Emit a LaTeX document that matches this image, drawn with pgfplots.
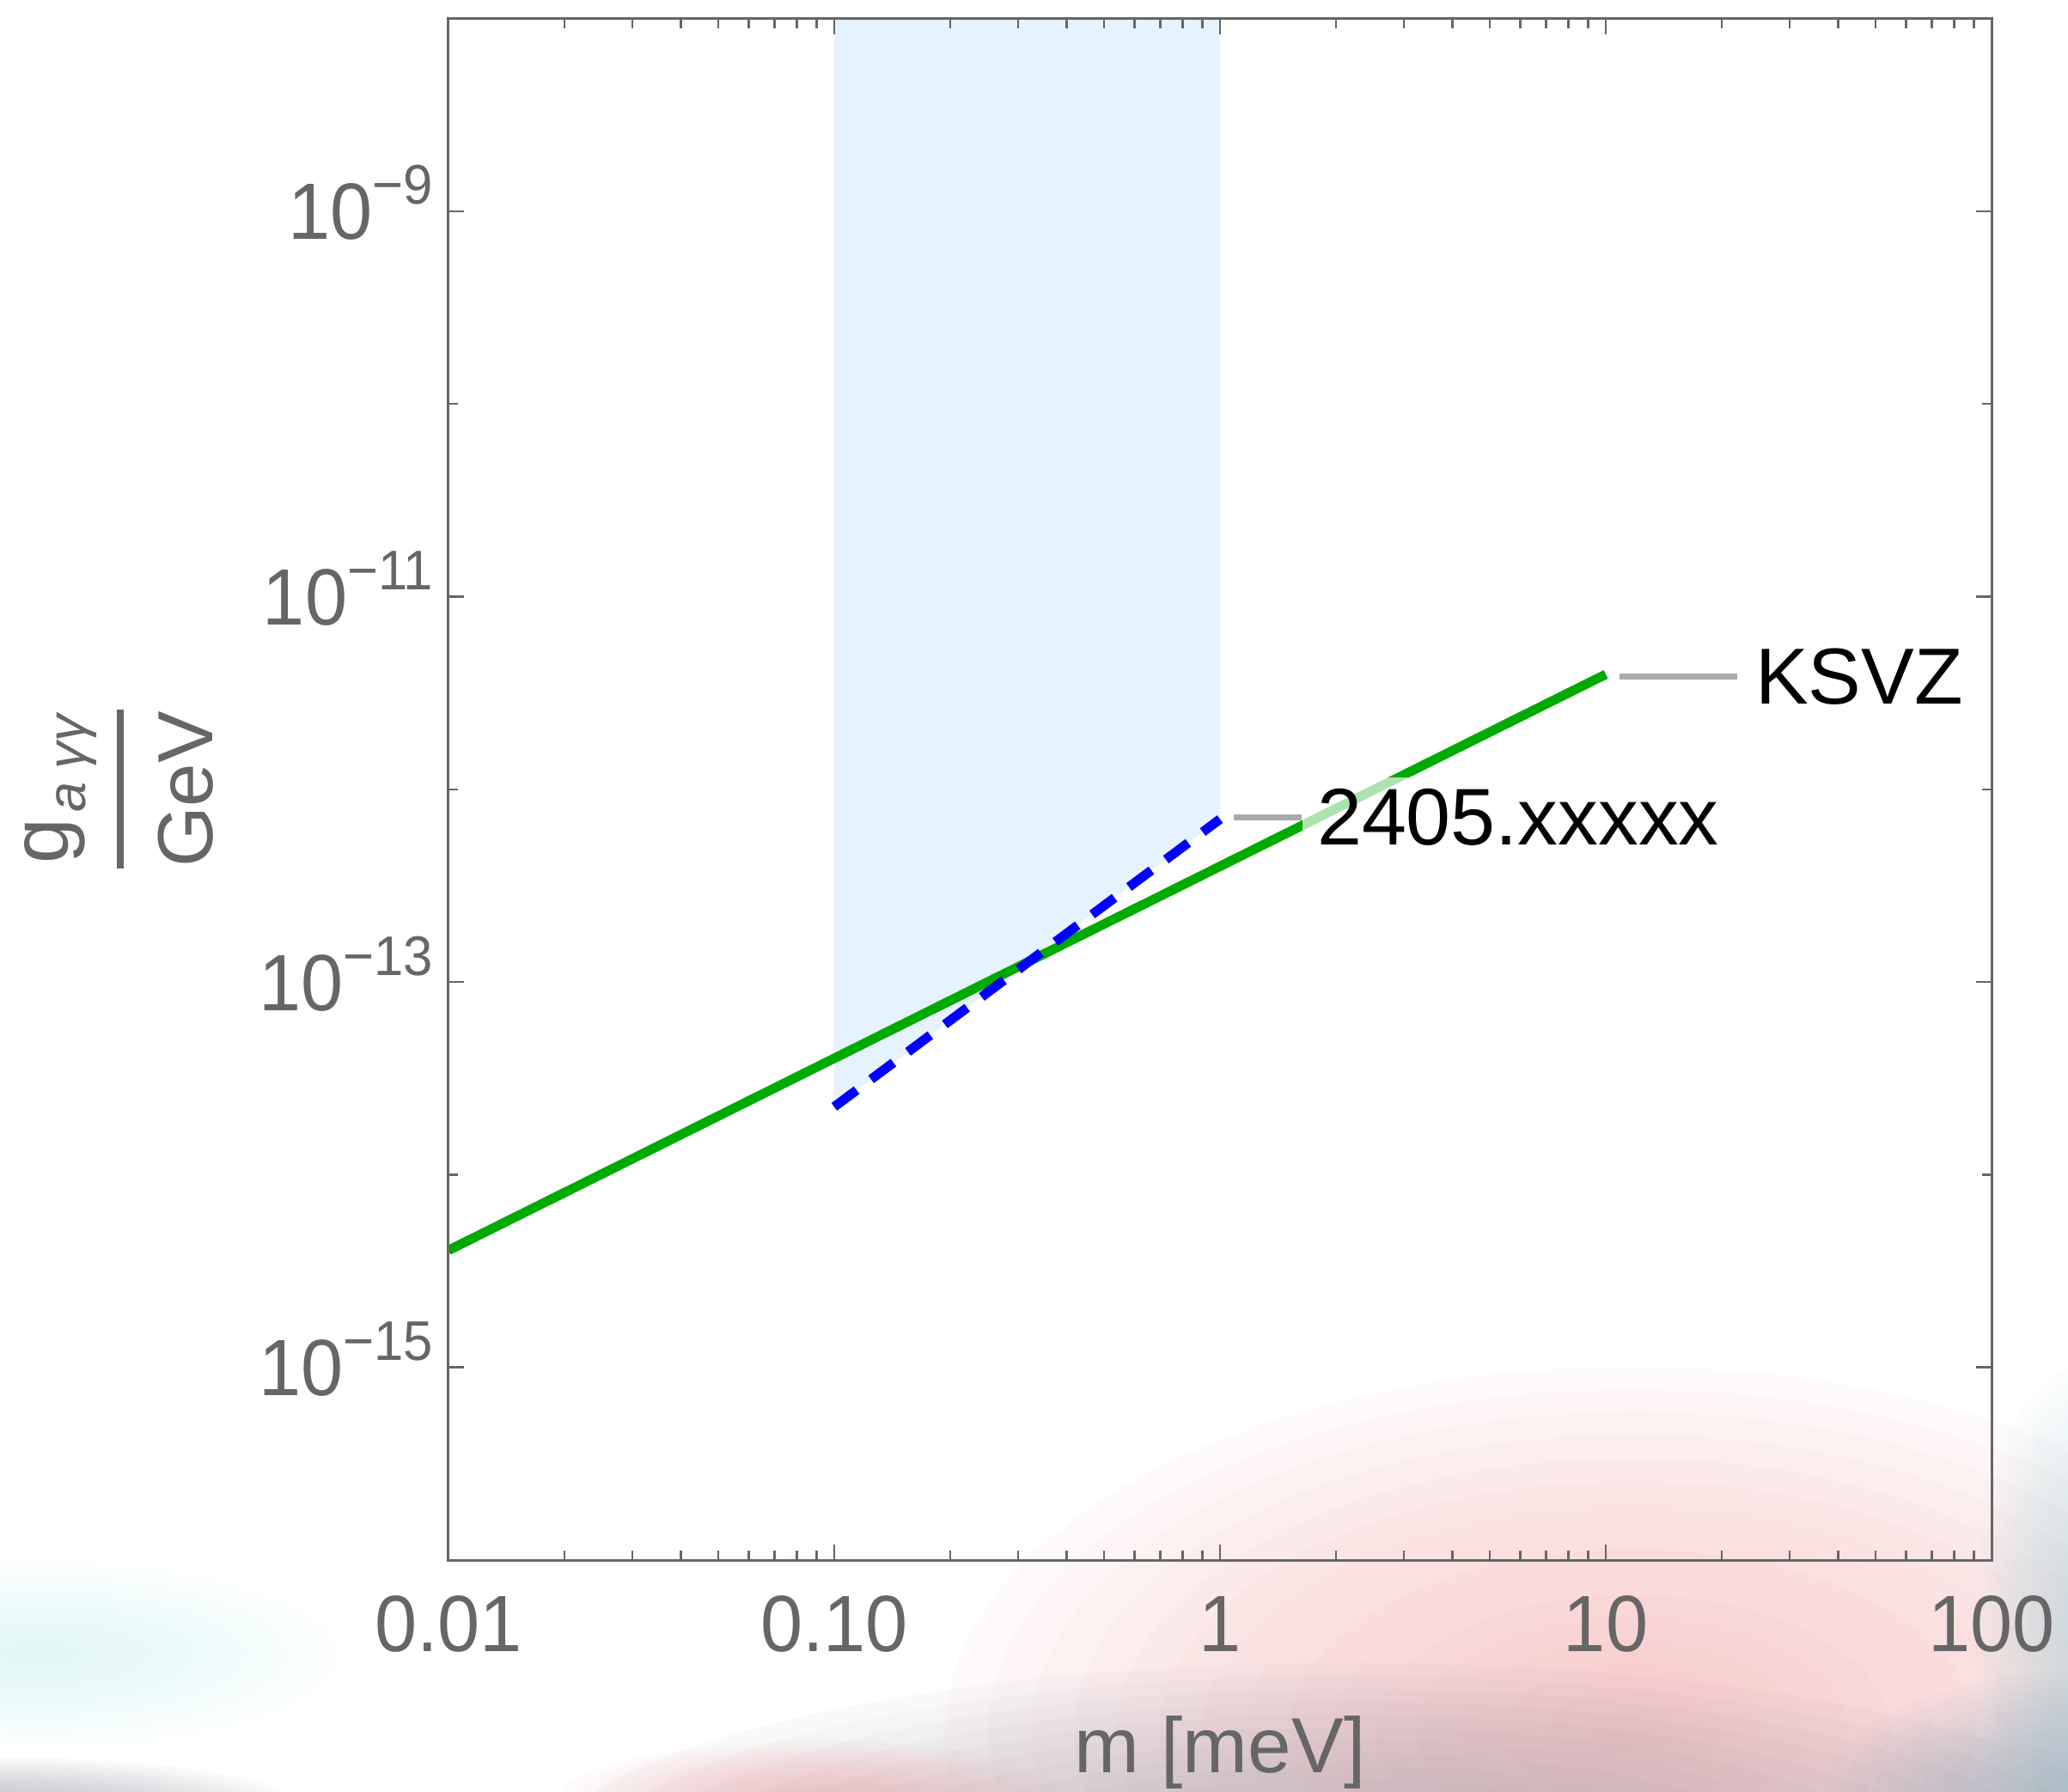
\documentclass[border=0pt]{standalone}
\usepackage{fontspec}
\setmainfont{Liberation Sans}
\newfontfamily\tickfont{Liberation Sans}[FakeStretch=0.95]
\usepackage{pgfplots}
\pgfplotsset{compat=1.18}
\definecolor{axgray}{HTML}{666666}
\definecolor{kgreen}{HTML}{00AA00}
\definecolor{shadeblue}{RGB}{230,242,253}
\definecolor{leadgray}{HTML}{AAAAAA}
\definecolor{bpink}{RGB}{240,150,150}
\definecolor{bgray}{RGB}{150,145,160}
\definecolor{bcyan}{RGB}{180,235,235}
\definecolor{bteal}{RGB}{150,200,210}
\definecolor{bblue}{RGB}{120,160,180}
\newcommand{\tp}[1]{10\raisebox{8.2pt}{\fontsize{13}{13}\selectfont −#1}}
\newcommand{\blob}[6]{\foreach \k in {1,...,16}{\fill[#5, opacity=#6] (#1,#2) ellipse [x radius={#3*\k/16}, y radius={#4*\k/16}];}}
\begin{document}
\begin{tikzpicture}
\useasboundingbox (-104.4pt,-54pt) rectangle (377pt,363.2pt);
\begin{scope}
\clip (-104.4pt,-54pt) rectangle (377pt,363.2pt);
\blob{275.6pt}{-40pt}{160pt}{85pt}{bpink}{0.045}
\blob{210pt}{-72pt}{190pt}{48pt}{bgray}{0.05}
\blob{-95pt}{-22pt}{70pt}{22pt}{bcyan}{0.03}
\blob{85.6pt}{-56pt}{60pt}{14pt}{bpink}{0.04}
\blob{-104pt}{-58pt}{70pt}{12pt}{bgray}{0.05}
\blob{380pt}{-15pt}{25pt}{60pt}{bteal}{0.035}
\blob{380pt}{-56pt}{60pt}{30pt}{bblue}{0.045}
\end{scope}
\begin{axis}[
  at={(0,0)}, anchor=south west, scale only axis,
  width=359.2pt, height=358.9pt,
  xmode=log, ymode=log,
  xmin=0.01, xmax=100, ymin=1e-16, ymax=1e-8,
  axis on top, clip=false,
  axis line style={axgray, line width=0.6pt},
  tick style={axgray, line width=0.5pt},
  major tick length=3.6pt, minor tick length=2.2pt,
  tick align=inside, xtick pos=both, ytick pos=both,
  xtick={0.01,0.1,1,10,100},
  xticklabels={0.01,0.10,1,10,100},
  minor xtick={0.02,0.03,0.04,0.05,0.06,0.07,0.08,0.09,0.2,0.3,0.4,0.5,0.6,0.7,0.8,0.9,2,3,4,5,6,7,8,9,20,30,40,50,60,70,80,90},
  ytick={1e-15,1e-13,1e-11,1e-9},
  yticklabels={\tp{15},\tp{13},\tp{11},\tp{9}},
  minor ytick={1e-16,1e-14,1e-12,1e-10},
  ticklabel style={font=\tickfont\fontsize{18.6}{20}\selectfont, text=axgray},
  xticklabel style={anchor=base, yshift=-21.2pt},
  yticklabel style={anchor=base east, yshift=-6.6pt},
  xlabel={m [meV]},
  xlabel style={at={(axis description cs:0.5,0)}, anchor=base, yshift=-49.4pt, font=\fontsize{18.2}{20}\selectfont, text=axgray},
]
\addplot[draw=none, fill=shadeblue] coordinates {(0.1,2.25e-14) (1,7.0e-13) (1,1e-8) (0.1,1e-8)} -- cycle;
\addplot[kgreen, line width=2.2pt] coordinates {(0.01,4.05e-15) (10,3.95e-12)};
\addplot[blue, line width=2.2pt, dash pattern=on 6.5pt off 4.2pt] coordinates {(0.1,2.25e-14) (1,7.0e-13)};
\addplot[leadgray, line width=1.4pt] coordinates {(10.85,3.83e-12) (21.9,3.83e-12)};
\addplot[leadgray, line width=1.4pt] coordinates {(1.085,7.18e-13) (1.628,7.18e-13)};
\node[anchor=west, inner sep=0pt, font=\fontsize{18.5}{20}\selectfont] at (axis cs:24.3,3.83e-12) {KSVZ};
\node[anchor=west, inner xsep=3.4pt, inner ysep=2.5pt, fill=white, fill opacity=0.68, text opacity=1, font=\fontsize{18.7}{20}\selectfont] at (axis cs:1.628,7.18e-13) {2405.xxxxx};
\node[rotate=90, anchor=base, text=axgray, font=\fontsize{19}{20}\selectfont] at ([xshift=-88.4pt]axis description cs:0,0.5) {g\hspace{1.5pt}\raisebox{-4pt}{\fontsize{12.6}{13}\selectfont\itshape a\hspace{3pt}γγ}};
\draw[axgray, line width=1.6pt] ([xshift=-76.4pt,yshift=-18.5pt]axis description cs:0,0.5) -- ([xshift=-76.4pt,yshift=18.5pt]axis description cs:0,0.5);
\node[rotate=90, anchor=base, text=axgray, font=\fontsize{18.2}{20}\selectfont] at ([xshift=-54.8pt]axis description cs:0,0.5) {GeV};
\end{axis}
\end{tikzpicture}
\end{document}
